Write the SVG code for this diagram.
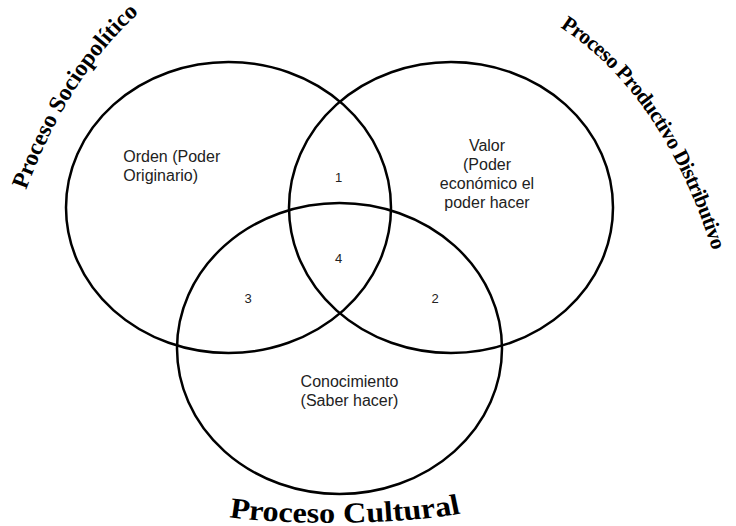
<svg xmlns="http://www.w3.org/2000/svg" xmlns:xlink="http://www.w3.org/1999/xlink" width="736" height="526" viewBox="0 0 736 526">
  <style>
    .set { fill: none; stroke: #000; stroke-width: 2.5; }
    .lbl { font-family: "Liberation Sans", Arial, sans-serif; font-size: 16px; fill: #222; }
    .num { font-family: "Liberation Sans", Arial, sans-serif; font-size: 13px; fill: #222; text-anchor: middle; }
    .title { font-family: "Liberation Serif", "Times New Roman", serif; font-weight: bold; fill: #000; }
  </style>
  <defs>
    <path id="arcLeft" d="M26,190 Q69,75 140,12"/>
    <path id="arcRight" d="M560,27 Q666,96 716,262"/>
    <path id="arcBottom" d="M229,517 C270,524 372,527 440,513"/>
  </defs>
  <rect width="736" height="526" fill="#fff"/>

  <g id="sociopolitico">
    <ellipse class="set" cx="228.5" cy="207.5" rx="162.5" ry="145.5"/>
    <text class="lbl" x="123.3" y="161.5">Orden (Poder</text>
    <text class="lbl" x="123.3" y="180.5">Originario)</text>
    <text class="title" font-size="23.5"><textPath xlink:href="#arcLeft" href="#arcLeft">Proceso Sociopolítico</textPath></text>
  </g>

  <g id="productivo">
    <ellipse class="set" cx="451" cy="207.5" rx="162" ry="145.5"/>
    <text class="lbl" text-anchor="middle" x="487" y="151">Valor</text>
    <text class="lbl" text-anchor="middle" x="487" y="170">(Poder</text>
    <text class="lbl" text-anchor="middle" x="487" y="189">económico el</text>
    <text class="lbl" text-anchor="middle" x="487" y="208">poder hacer</text>
    <text class="title" font-size="21.5" letter-spacing="-0.6"><textPath xlink:href="#arcRight" href="#arcRight">Proceso Productivo Distributivo</textPath></text>
  </g>

  <g id="cultural">
    <ellipse class="set" cx="339.5" cy="348.5" rx="162.5" ry="145.5"/>
    <text class="lbl" text-anchor="middle" x="349.5" y="387">Conocimiento</text>
    <text class="lbl" text-anchor="middle" x="349.5" y="406">(Saber hacer)</text>
    <g transform="translate(229,0) scale(1.11,1) translate(-229,0)">
      <text class="title" font-size="29"><textPath xlink:href="#arcBottom" href="#arcBottom">Proceso Cultural</textPath></text>
    </g>
  </g>

  <g id="regions">
    <text class="num" x="338.5" y="182">1</text>
    <text class="num" x="435" y="303">2</text>
    <text class="num" x="248" y="303">3</text>
    <text class="num" x="338.5" y="263">4</text>
  </g>
</svg>
